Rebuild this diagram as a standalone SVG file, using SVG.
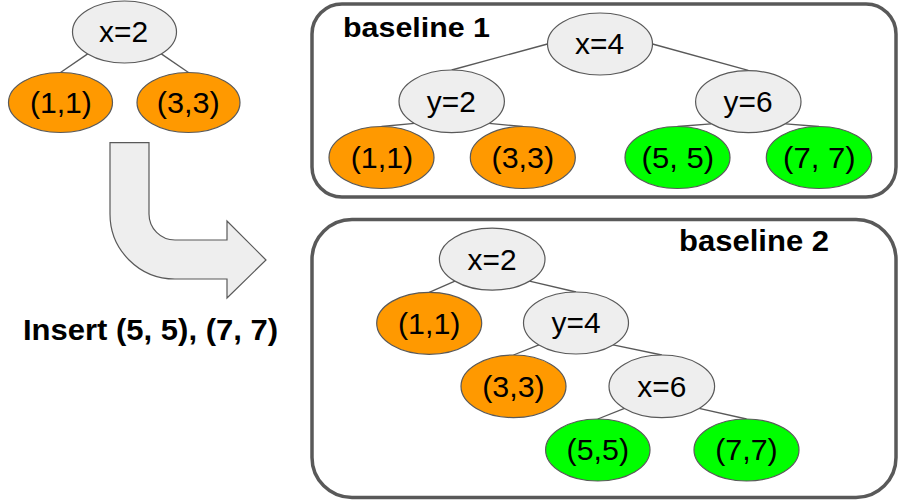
<svg xmlns="http://www.w3.org/2000/svg" width="899" height="501" viewBox="0 0 899 501">
<style>
.g{fill:#eeeeee;stroke:#595959;stroke-width:1.2}
.o{fill:#ff9900;stroke:#595959;stroke-width:1.2}
.n{fill:#00ff00;stroke:#595959;stroke-width:1.2}
.t{font-family:"Liberation Sans",Arial,sans-serif;font-size:29px;fill:#000;text-anchor:middle}
.b{font-family:"Liberation Sans",Arial,sans-serif;font-weight:bold;fill:#000}
.box{fill:#ffffff;stroke:#595959;stroke-width:3.5}
#connectors line{stroke:#595959;stroke-width:1.3}
</style>
<rect id="box1" class="box" x="312" y="4" width="584" height="193" rx="30"/>
<rect id="box2" class="box" x="312" y="219.5" width="584" height="278" rx="40"/>
<g id="arrow"><path d="M110,142.7 L149,142.7 L149,214 A26,26 0 0 0 175,240 L227,240 L227,221 L266,260 L227,298 L227,279 L175,279 A65,65 0 0 1 110,214 Z" fill="#eeeeee" stroke="#595959" stroke-width="1.2"/></g>
<text id="insert" class="b" x="23" y="340" font-size="29" textLength="255" lengthAdjust="spacingAndGlyphs">Insert (5, 5), (7, 7)</text>
<text id="bl1" class="b" x="343" y="36.7" font-size="27" textLength="147" lengthAdjust="spacingAndGlyphs">baseline 1</text>
<text id="bl2" class="b" x="679" y="250.7" font-size="29" textLength="150" lengthAdjust="spacingAndGlyphs">baseline 2</text>
<g id="connectors">
<line x1="87.7" y1="53.9" x2="60.5" y2="72.5"/>
<line x1="161.3" y1="53.9" x2="188.5" y2="72.5"/>
<line x1="547.5" y1="44" x2="451.7" y2="70"/>
<line x1="652.5" y1="44" x2="748.3" y2="70.4"/>
<line x1="414.4" y1="123.4" x2="381.5" y2="126.5"/>
<line x1="489" y1="123.4" x2="522.8" y2="126.5"/>
<line x1="711" y1="123.8" x2="677.5" y2="126.5"/>
<line x1="785.6" y1="123.8" x2="819" y2="126.5"/>
<line x1="454.9" y1="281.1" x2="429.2" y2="292.3"/>
<line x1="529.5" y1="281.1" x2="576" y2="292"/>
<line x1="538.9" y1="344.9" x2="513.5" y2="355"/>
<line x1="613.1" y1="344.9" x2="661.8" y2="355"/>
<line x1="624.5" y1="408.4" x2="597.8" y2="419"/>
<line x1="699.1" y1="408.4" x2="746.5" y2="419"/>
</g>
<g id="L_x2"><ellipse class="g" cx="124.5" cy="32" rx="52" ry="31"/><text class="t" x="123.5" y="42.4" textLength="49" lengthAdjust="spacingAndGlyphs">x=2</text></g>
<g id="L_11"><ellipse class="o" cx="60.5" cy="102.5" rx="52" ry="30"/><text class="t" x="60.9" y="113" textLength="62" lengthAdjust="spacingAndGlyphs">(1,1)</text></g>
<g id="L_33"><ellipse class="o" cx="188.5" cy="102.5" rx="51.5" ry="30"/><text class="t" x="188.3" y="113" textLength="63" lengthAdjust="spacingAndGlyphs">(3,3)</text></g>
<g id="B1_x4"><ellipse class="g" cx="600" cy="44" rx="52.5" ry="31"/><text class="t" x="599.5" y="54.4" textLength="49" lengthAdjust="spacingAndGlyphs">x=4</text></g>
<g id="B1_y2"><ellipse class="g" cx="451.7" cy="101.3" rx="52.7" ry="31.3"/><text class="t" x="451.3" y="111.7" textLength="49" lengthAdjust="spacingAndGlyphs">y=2</text></g>
<g id="B1_11"><ellipse class="o" cx="381.5" cy="157.5" rx="52.5" ry="31"/><text class="t" x="382" y="167.9" textLength="62.5" lengthAdjust="spacingAndGlyphs">(1,1)</text></g>
<g id="B1_33"><ellipse class="o" cx="522.8" cy="157.5" rx="52.5" ry="31"/><text class="t" x="522.8" y="167.9" textLength="62.5" lengthAdjust="spacingAndGlyphs">(3,3)</text></g>
<g id="B1_y6"><ellipse class="g" cx="748.3" cy="101.7" rx="52.7" ry="31"/><text class="t" x="748" y="112.1" textLength="49" lengthAdjust="spacingAndGlyphs">y=6</text></g>
<g id="B1_55"><ellipse class="n" cx="677.5" cy="157.5" rx="52.5" ry="31"/><text class="t" x="677.8" y="167.9" textLength="72.5" lengthAdjust="spacingAndGlyphs">(5, 5)</text></g>
<g id="B1_77"><ellipse class="n" cx="819" cy="157.5" rx="52.7" ry="31"/><text class="t" x="819.3" y="167.9" textLength="72.5" lengthAdjust="spacingAndGlyphs">(7, 7)</text></g>
<g id="B2_x2"><ellipse class="g" cx="492.2" cy="259.2" rx="52.8" ry="31"/><text class="t" x="492" y="269.6" textLength="49" lengthAdjust="spacingAndGlyphs">x=2</text></g>
<g id="B2_11"><ellipse class="o" cx="429.2" cy="323.3" rx="52.5" ry="31"/><text class="t" x="429.2" y="333.7" textLength="62.5" lengthAdjust="spacingAndGlyphs">(1,1)</text></g>
<g id="B2_y4"><ellipse class="g" cx="576" cy="323" rx="52.5" ry="31"/><text class="t" x="576" y="333.4" textLength="49" lengthAdjust="spacingAndGlyphs">y=4</text></g>
<g id="B2_33"><ellipse class="o" cx="513.5" cy="386.3" rx="52.5" ry="31.3"/><text class="t" x="513.5" y="396.7" textLength="62.5" lengthAdjust="spacingAndGlyphs">(3,3)</text></g>
<g id="B2_x6"><ellipse class="g" cx="661.8" cy="386.3" rx="52.8" ry="31.3"/><text class="t" x="661.8" y="396.7" textLength="49" lengthAdjust="spacingAndGlyphs">x=6</text></g>
<g id="B2_55"><ellipse class="n" cx="597.8" cy="450" rx="52.2" ry="31"/><text class="t" x="597.8" y="460.4" textLength="62.5" lengthAdjust="spacingAndGlyphs">(5,5)</text></g>
<g id="B2_77"><ellipse class="n" cx="746.5" cy="450" rx="52.5" ry="31"/><text class="t" x="746.5" y="460.4" textLength="62.5" lengthAdjust="spacingAndGlyphs">(7,7)</text></g>
</svg>
